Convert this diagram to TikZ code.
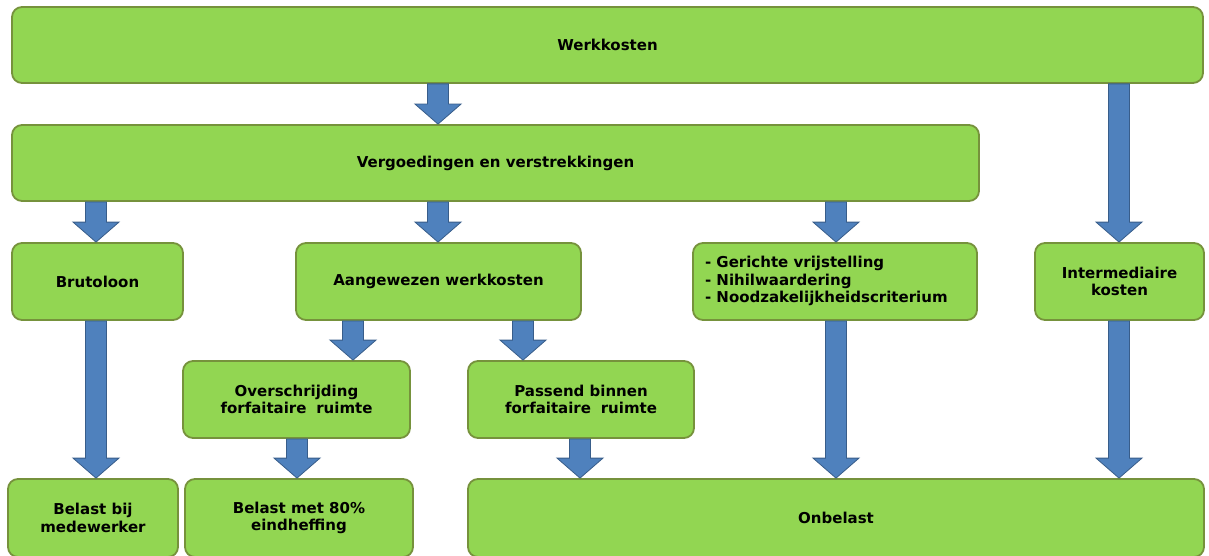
\documentclass[tikz,border=0pt]{standalone}
\usepackage{fontspec}
\setmainfont{DejaVu Sans}
\usetikzlibrary{calc}
\definecolor{boxfill}{RGB}{146,214,82}
\definecolor{boxline}{RGB}{118,146,60}
\definecolor{arrfill}{RGB}{79,129,189}
\definecolor{arrline}{RGB}{56,93,138}
\tikzset{
  box/.style={draw=boxline, fill=boxfill, line width=1.8pt, rounded corners=10pt,
    inner sep=0pt, align=center, font=\bfseries\fontsize{15}{17.5}\selectfont},
  blockarrow/.style={draw=arrline, fill=arrfill, line width=0.8pt, line join=miter}
}
\newcommand\blockarr[3]{%
  \path[blockarrow] let \p1=(#1.south), \p2=(#2.north) in
    (#3-10.5,\y1) -- (#3+10.5,\y1) -- (#3+10.5,\y2+20pt) -- (#3+23,\y2+20pt)
    -- (#3,\y2) -- (#3-23,\y2+20pt) -- (#3-10.5,\y2+20pt) -- cycle;}
\begin{document}
\begin{tikzpicture}[x=1pt,y=1pt]
\useasboundingbox (0,0) rectangle (1209,-556);
\clip (0,0) rectangle (1209,-556);
\node[box, minimum width=1191pt, minimum height=76pt] (wk) at (607.5,-45) {Werkkosten};
\node[box, minimum width=967pt, minimum height=76pt] (ve) at (495.5,-163) {Vergoedingen en verstrekkingen};
\node[box, minimum width=171pt, minimum height=77pt] (bl) at (97.5,-281.5) {Brutoloon};
\node[box, minimum width=285pt, minimum height=77pt] (aw) at (438.5,-281.5) {Aangewezen werkkosten};
\node[box, minimum width=284pt, minimum height=77pt, align=left] (gv) at (835,-281.5)
  {\makebox[260pt][l]{\begin{tabular}{@{}l@{}}- Gerichte vrijstelling\\- Nihilwaardering\\- Noodzakelijkheidscriterium\end{tabular}}};
\node[box, minimum width=169pt, minimum height=77pt] (im) at (1119.5,-281.5) {Intermediaire\\kosten};
\node[box, minimum width=227pt, minimum height=77pt] (ov) at (296.5,-399.5) {Overschrijding\\forfaitaire\hspace{0.3em} ruimte};
\node[box, minimum width=226pt, minimum height=77pt] (pb) at (581,-399.5) {Passend binnen\\forfaitaire\hspace{0.3em} ruimte};
\node[box, minimum width=170pt, minimum height=78pt] (bb) at (93,-518) {Belast bij\\medewerker};
\node[box, minimum width=228pt, minimum height=78pt] (b80) at (299,-518) {Belast met 80\%\\eindheffing};
\node[box, minimum width=736pt, minimum height=78pt] (on) at (836,-518) {Onbelast};
\blockarr{wk}{ve}{438}
\blockarr{wk}{im}{1119}
\blockarr{ve}{bl}{96}
\blockarr{ve}{aw}{438}
\blockarr{ve}{gv}{836}
\blockarr{bl}{bb}{96}
\blockarr{aw}{ov}{353}
\blockarr{aw}{pb}{523}
\blockarr{gv}{on}{836}
\blockarr{im}{on}{1119}
\blockarr{ov}{b80}{297}
\blockarr{pb}{on}{580}
\end{tikzpicture}
\end{document}
